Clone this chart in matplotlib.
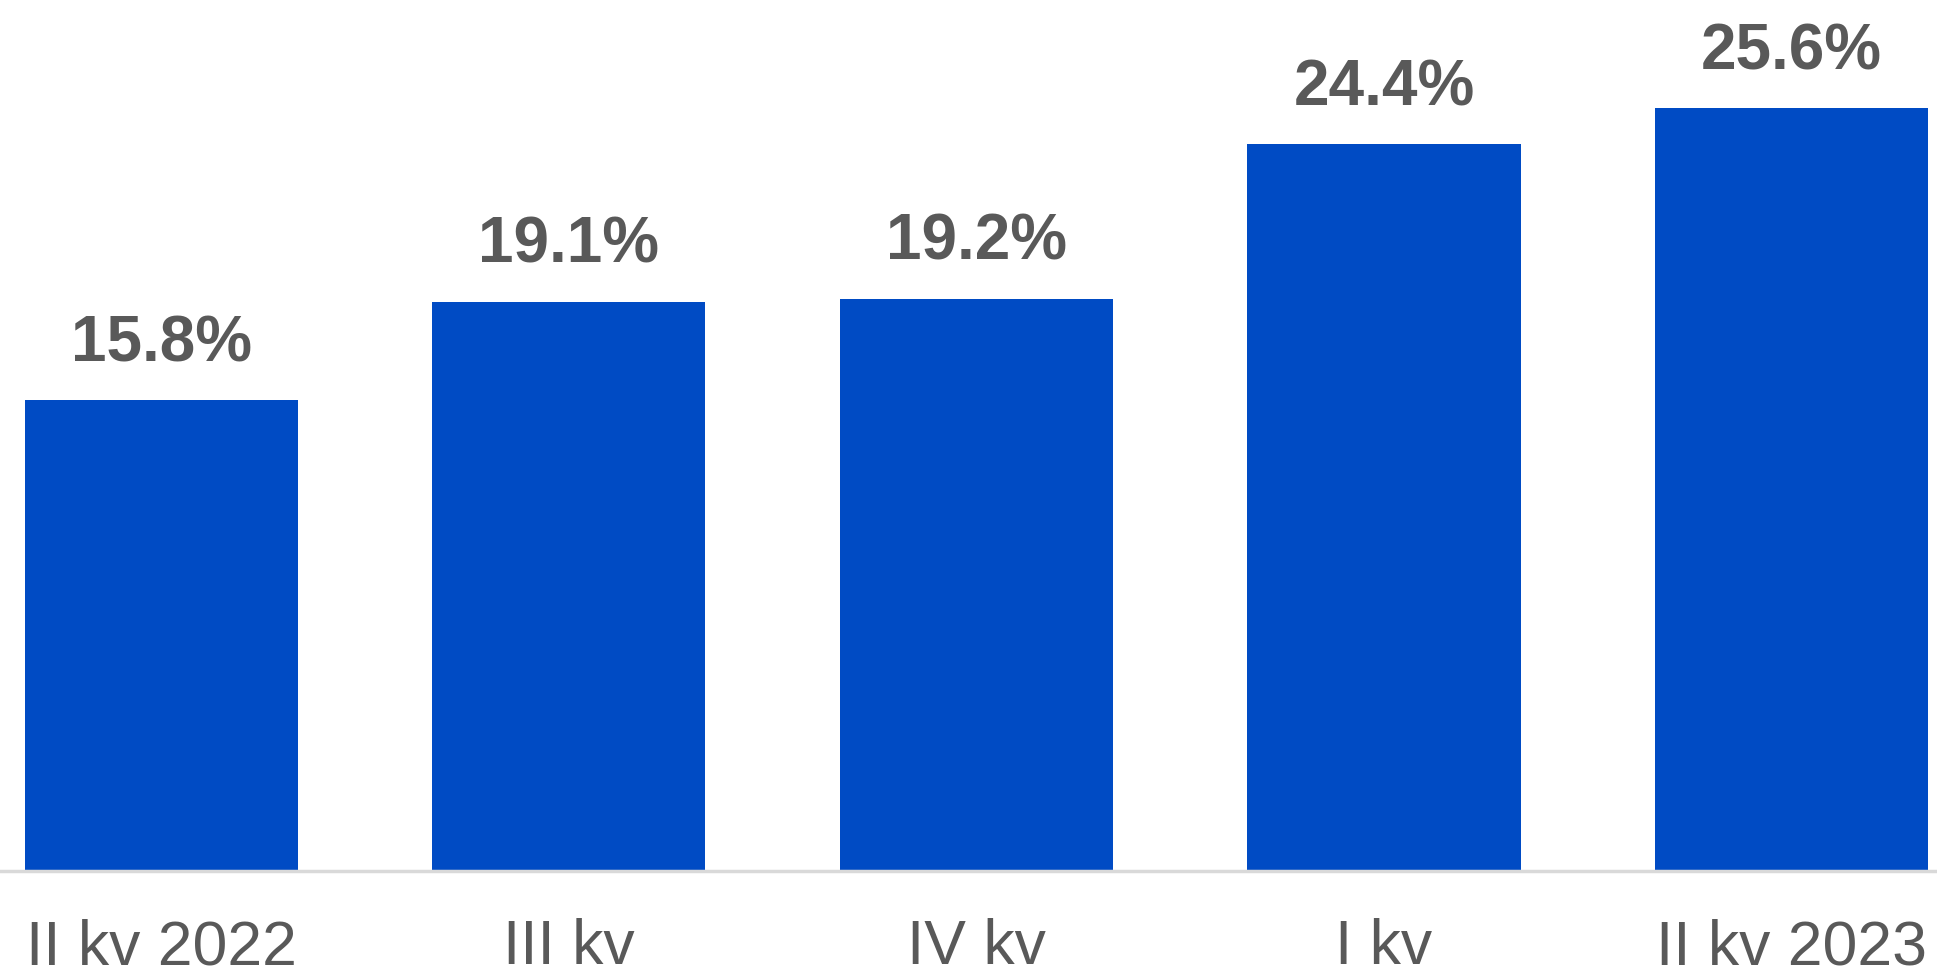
import matplotlib.pyplot as plt

categories = ['II kv 2022', 'III kv', 'IV kv', 'I kv', 'II kv 2023']
values = [15.8, 19.1, 19.2, 24.4, 25.6]
labels = ['15.8%', '19.1%', '19.2%', '24.4%', '25.6%']

plt.rcParams['font.family'] = ['Liberation Sans', 'DejaVu Sans']

fig = plt.figure(figsize=(19.37, 9.75), dpi=100)
ax = fig.add_axes([0, 104 / 975, 1, 871 / 975])

x = range(len(categories))
bars = ax.bar(x, values, width=0.67, color='#004BC4')

for b, lab in zip(bars, labels):
    ax.annotate(lab, (b.get_x() + b.get_width() / 2, b.get_height()),
                xytext=(0, 28), textcoords='offset points',
                ha='center', va='baseline', fontsize=46, fontweight='bold',
                color='#595959')

ax.set_xlim(-0.396, 4.357)
ax.set_ylim(0, 29.23)
ax.set_xticks(list(x))
ax.set_xticklabels(categories, fontsize=45, color='#595959')
ax.tick_params(axis='x', length=0, pad=34)
ax.set_yticks([])
for s in ['top', 'right', 'left']:
    ax.spines[s].set_visible(False)
ax.spines['bottom'].set_color('#D9D9D9')
ax.spines['bottom'].set_linewidth(2.5)

fig.savefig('out.png', dpi=100)
